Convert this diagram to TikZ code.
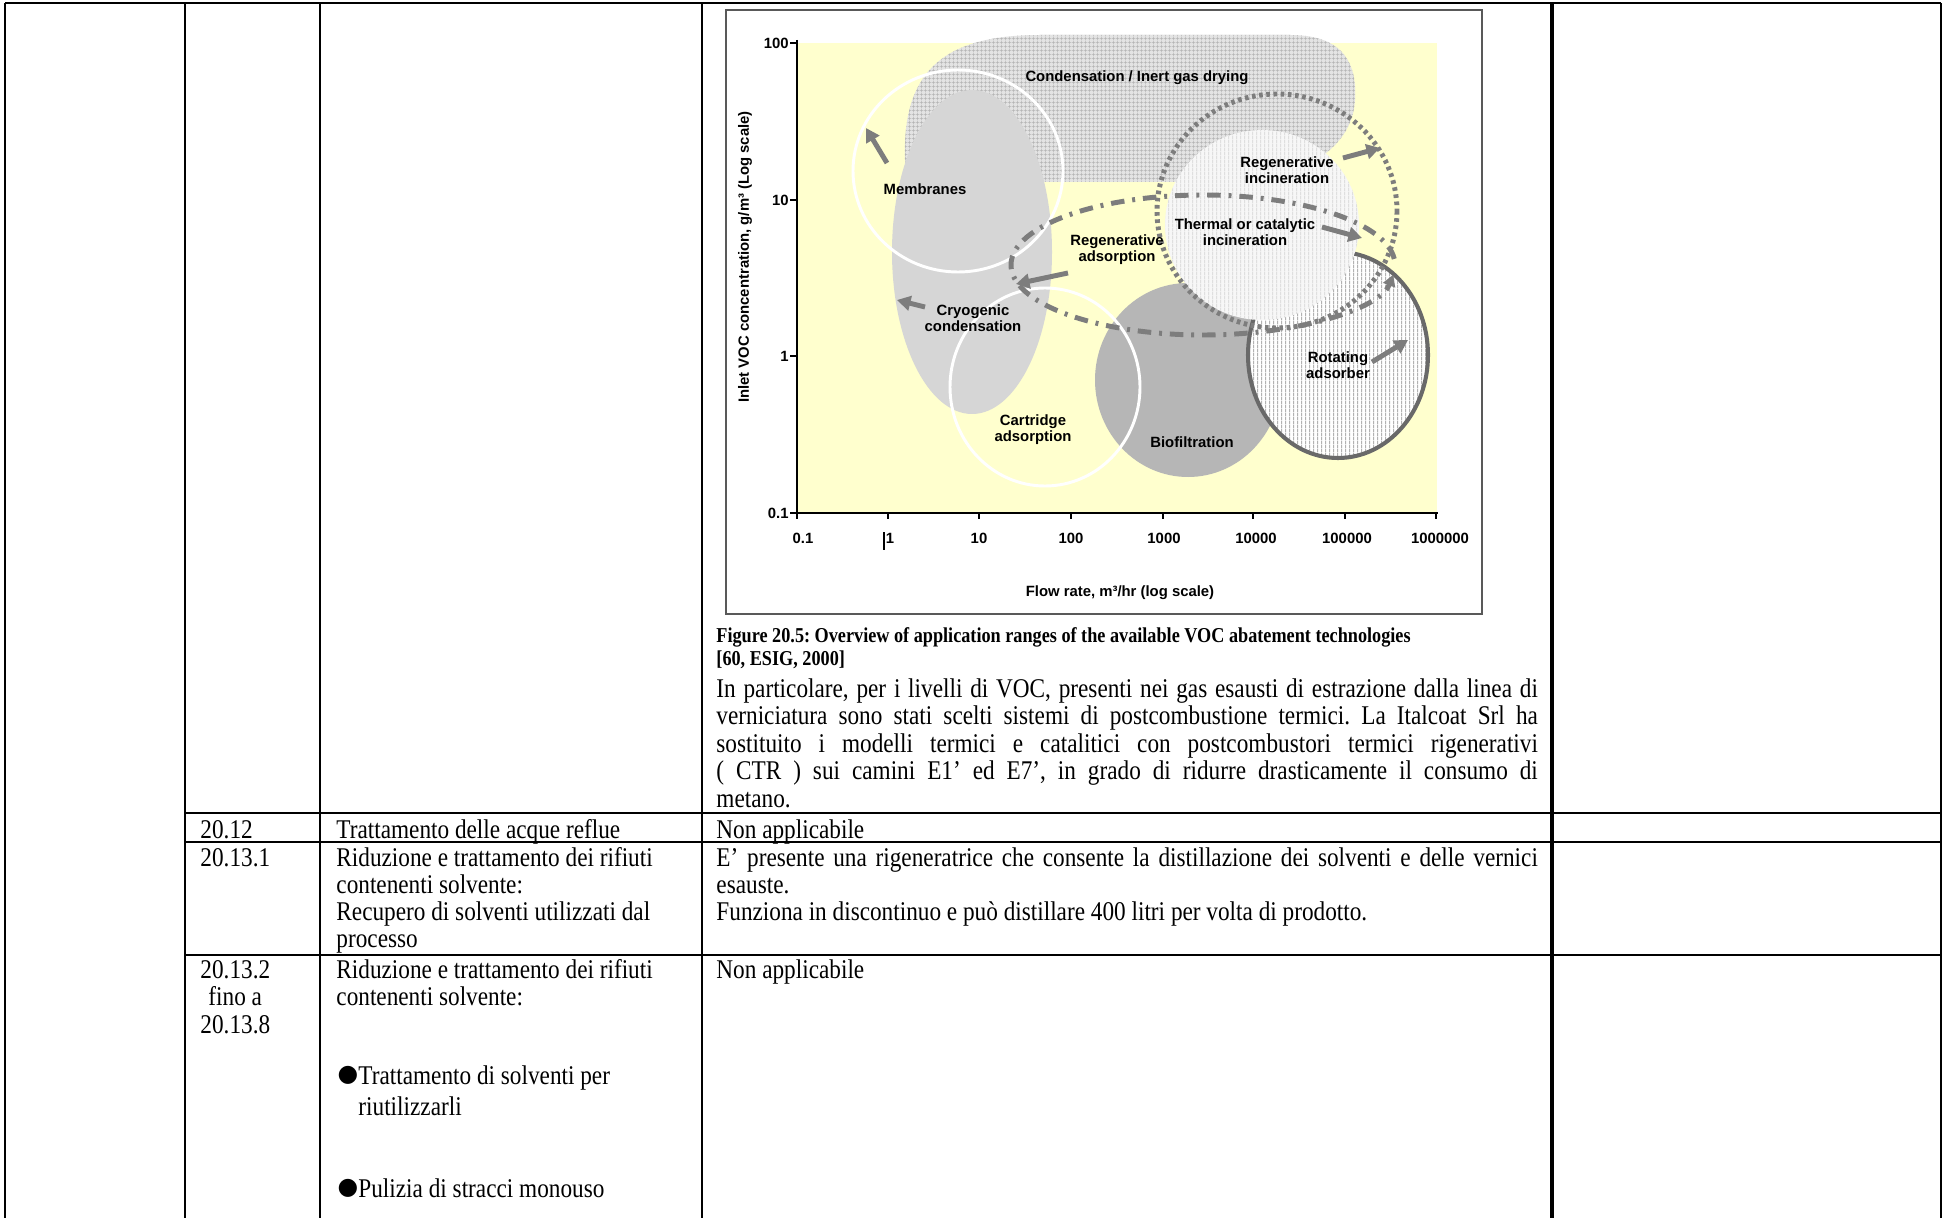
\documentclass[tikz,border=0pt]{standalone}
\usepackage{fontspec}
\setmainfont{Liberation Serif}[FakeStretch=0.86]
\newfontfamily\chartfont{Liberation Sans}
\newfontfamily\bulletfont{DejaVu Sans}
\usetikzlibrary{arrows.meta,patterns.meta}
\frenchspacing

\definecolor{plotyellow}{RGB}{255,255,206}
\definecolor{cryogrey}{RGB}{214,214,214}
\definecolor{biogrey}{RGB}{182,182,182}
\definecolor{arrowgrey}{RGB}{125,125,125}
\definecolor{rimgrey}{RGB}{105,105,105}

\tikzdeclarepattern{
  name=vstripes,
  type=uncolored,
  bottom left={(0pt,0pt)},
  top right={(1.8pt,1.8pt)},
  tile size={(1.8pt,1.8pt)},
  code={\draw[line width=0.5pt] (0.9pt,-0.1pt) -- (0.9pt,1.9pt);}
}
\tikzdeclarepattern{
  name=finegrid,
  type=uncolored,
  bottom left={(0pt,0pt)},
  top right={(1.6pt,1.6pt)},
  tile size={(1.6pt,1.6pt)},
  code={\draw[line width=0.35pt] (0.8pt,-0.1pt) -- (0.8pt,1.7pt) (-0.1pt,0.8pt) -- (1.7pt,0.8pt);}
}

\tikzset{
  cell/.style={anchor=base west, inner sep=0pt, font=\fontsize{12}{12}\selectfont},
  capt/.style={anchor=base west, inner sep=0pt, font=\bfseries\fontsize{9.4}{9.4}\selectfont},
  chartlbl/.style={inner sep=0pt, align=center, font=\chartfont\bfseries\fontsize{6.6}{7.2}\selectfont},
  ticklbl/.style={inner sep=0pt, font=\chartfont\bfseries\fontsize{6.6}{7}\selectfont},
  bulletmark/.style={inner sep=0pt, font=\bulletfont\fontsize{10.5}{10.5}\selectfont},
  gridline/.style={line width=0.9pt},
  axisline/.style={line width=1.3pt},
  whiterim/.style={white, line width=1.3pt},
  fatarrow/.style={arrowgrey, line width=2.2pt, -{Triangle[length=6pt,width=6.5pt]}},
  adsloop/.style={arrowgrey, line width=2.2pt, dash pattern=on 6pt off 3.5pt on 1.3pt off 3.5pt},
  dotring/.style={arrowgrey, line width=2.2pt, dash pattern=on 1.6pt off 1.6pt},
}

\begin{document}
\begin{tikzpicture}[x=0.444pt, y=-0.444pt]
\useasboundingbox (0,0) rectangle (1942,1218);

% table rules
\draw[gridline] (5,3) -- (1941,3);
\draw[gridline] (5,3) -- (5,1218);
\draw[gridline] (185,3) -- (185,1218);
\draw[gridline] (320,3) -- (320,1218);
\draw[gridline] (702,3) -- (702,1218);
\draw[line width=1.4pt] (1552,3) -- (1552,1218);
\draw[gridline] (1941,3) -- (1941,1218);
\draw[gridline] (185,813) -- (1941,813);
\draw[gridline] (185,842) -- (1941,842);
\draw[gridline] (185,955) -- (1941,955);

% chart frame and plot area
\draw[line width=0.8pt, black!65, fill=white] (726,10) rectangle (1482,614);
\fill[plotyellow] (797,43) rectangle (1437,513);

% application ranges
\path[preaction={fill=gray!22}, pattern=finegrid, pattern color=gray!60]
  (905,160) .. controls (902,70) and (945,35) .. (1040,35) -- (1290,35)
  .. controls (1345,35) and (1357,65) .. (1355,100)
  .. controls (1352,150) and (1300,182) .. (1220,182) -- (1010,182)
  .. controls (940,182) and (907,185) .. (905,160) -- cycle;
\fill[cryogrey] (972,252) ellipse [x radius=80, y radius=162];
\fill[biogrey] (1188,380) ellipse [x radius=93, y radius=97];
\path[preaction={fill=white}, pattern=vstripes, pattern color=gray!60]
  (1338,355) ellipse [x radius=90, y radius=103];
\draw[rimgrey, line width=1.8pt] (1338,355) ellipse [x radius=90, y radius=103];
\path[preaction={fill=gray!6}, pattern=vstripes, pattern color=gray!25]
  (1262,225) ellipse [x radius=97, y radius=95];
\draw[whiterim] (958,171) ellipse [x radius=105, y radius=101];
\draw[whiterim] (1045,387) ellipse [x radius=95, y radius=99];
\draw[dotring] (1277,211) ellipse [x radius=120, y radius=117];
\draw[adsloop, -{Triangle[length=5pt,width=5.5pt]}] (1203,265) ++(-5:192 and 70)
  arc [start angle=-5, end angle=-352, x radius=192, y radius=70];

% shift arrows
\draw[fatarrow] (887,163) -- (866,128);
\draw[fatarrow] (925,307) -- (897,300);
\draw[fatarrow] (1068,273) -- (1016,284);
\draw[fatarrow] (1343,158) -- (1380,148);
\draw[fatarrow] (1322,227) -- (1362,238);
\draw[fatarrow] (1372,362) -- (1408,340);

% range labels
\node[chartlbl] (cond) at (1137,78) {Condensation / Inert gas drying};
\node[chartlbl] (memb) at (925,189) {Membranes};
\node[chartlbl] (cryo) at (973,318) {Cryogenic\\condensation};
\node[chartlbl] (regads) at (1117,250) {Regenerative\\adsorption};
\node[chartlbl] (regin) at (1287,170) {Regenerative\\incineration};
\node[chartlbl] (therm) at (1245,232) {Thermal or catalytic\\incineration};
\node[chartlbl] (cart) at (1033,430) {Cartridge\\adsorption};
\node[chartlbl] (bio) at (1192,442) {Biofiltration};
\node[chartlbl] (rot) at (1338,365) {Rotating\\adsorber};

% axes
\draw[axisline] (797,40) -- (797,513) -- (1438,513);
\foreach \yy/\lbl in {43/100, 200/10, 356/1, 513/0.1} {
  \draw[axisline] (790,\yy) -- (797,\yy);
  \node[ticklbl, anchor=east] (yt\yy) at (789,\yy) {\lbl};
}
\foreach \xx/\lx/\lbl in {797/803/0.1, 888/890/1, 979/979/10, 1071/1071/100,
    1163/1164/1000, 1253/1256/10000, 1345/1347/100000, 1436/1440/1000000} {
  \draw[axisline] (\xx,513) -- (\xx,519);
  \node[ticklbl] (xt\xx) at (\lx,538) {\lbl};
}
\draw[line width=0.5pt] (884,532) -- (884,550);
\node[ticklbl] (xtitle) at (1120,593) {Flow rate, m³/hr (log scale)};
\node[ticklbl, rotate=90] (ytitle) at (745,257) {Inlet VOC concentration, g/m³ (Log scale)};

% caption and text of the chart cell
\node[capt] (cap1) at (716,642) {Figure 20.5: Overview of application ranges of the available VOC abatement technologies};
\node[capt] (cap2) at (716,665) {[60, ESIG, 2000]};
\node[cell] (p1) at (716,697) {\makebox[364.7pt][s]{In particolare, per i livelli di VOC, presenti nei gas esausti di estrazione dalla linea di}};
\node[cell] (p2) at (716,724.5) {\makebox[364.7pt][s]{verniciatura sono stati scelti sistemi di postcombustione termici. La Italcoat Srl ha}};
\node[cell] (p3) at (716,752) {\makebox[364.7pt][s]{sostituito i modelli termici e catalitici con postcombustori termici rigenerativi}};
\node[cell] (p4) at (716,779.5) {\makebox[364.7pt][s]{( CTR ) sui camini E1’ ed E7’, in grado di ridurre drasticamente il consumo di}};
\node[cell] (p5) at (716,807) {metano.};

% row 20.12
\node[cell] (n2012) at (200,838) {20.12};
\node[cell] (t2012) at (336,838) {Trattamento delle acque reflue};
\node[cell] (r2012) at (716,838) {Non applicabile};

% row 20.13.1
\node[cell] (n20131) at (200,866) {20.13.1};
\node[cell] (ta1) at (336,866) {Riduzione e trattamento dei rifiuti};
\node[cell] (ta2) at (336,893) {contenenti solvente:};
\node[cell] (ta3) at (336,920) {Recupero di solventi utilizzati dal};
\node[cell] (ta4) at (336,947) {processo};
\node[cell] (ra1) at (716,866) {\makebox[364.7pt][s]{E’ presente una rigeneratrice che consente la distillazione dei solventi e delle vernici}};
\node[cell] (ra2) at (716,893) {esauste.};
\node[cell] (ra3) at (716,920) {Funziona in discontinuo e può distillare 400 litri per volta di prodotto.};

% row 20.13.2 - 20.13.8
\node[cell] (n20132) at (200,978) {20.13.2};
\node[cell] (nfino) at (208,1005) {fino a};
\node[cell] (n20138) at (200,1033) {20.13.8};
\node[cell] (tb1) at (336,978) {Riduzione e trattamento dei rifiuti};
\node[cell] (tb2) at (336,1005) {contenenti solvente:};
\node[bulletmark] (bul1) at (348,1075) {●};
\node[cell] (tb3) at (358,1084) {Trattamento di solventi per};
\node[cell] (tb4) at (358,1115) {riutilizzarli};
\node[bulletmark] (bul2) at (348,1188) {●};
\node[cell] (tb5) at (358,1197) {Pulizia di stracci monouso};
\node[cell] (rb1) at (716,978) {Non applicabile};
\end{tikzpicture}
\end{document}
